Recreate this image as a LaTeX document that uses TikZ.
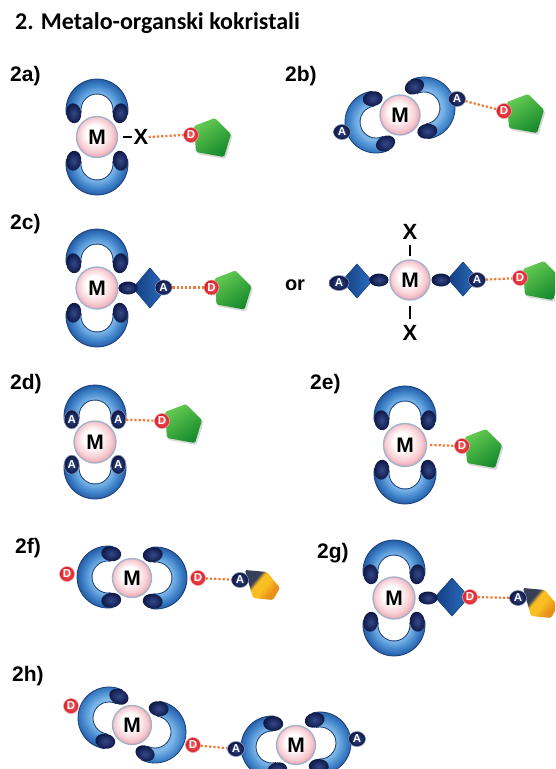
\documentclass[tikz,border=0pt]{standalone}
\usepackage{fontspec}
\setmainfont{Liberation Sans}
\newfontfamily\titlefont{Carlito}
\usetikzlibrary{shapes.geometric,shadows}

\definecolor{ringdark}{RGB}{36,92,166}
\definecolor{ringmid}{RGB}{70,138,206}
\definecolor{ringlight}{RGB}{126,182,232}
\definecolor{ringedgec}{RGB}{24,62,118}
\definecolor{navydark}{RGB}{12,22,66}
\definecolor{navylight}{RGB}{52,72,138}
\definecolor{mpink}{RGB}{246,204,210}
\definecolor{mred}{RGB}{222,104,120}
\definecolor{mrim}{RGB}{160,178,204}
\definecolor{dred}{RGB}{214,30,40}
\definecolor{dredlight}{RGB}{250,96,96}
\definecolor{hbondc}{RGB}{240,120,50}
\definecolor{gtop}{RGB}{100,202,82}
\definecolor{gbot}{RGB}{22,138,44}
\definecolor{diadark}{RGB}{20,62,130}
\definecolor{dialight}{RGB}{44,110,190}
\definecolor{golddark}{RGB}{55,62,88}
\definecolor{goldmid}{RGB}{248,190,34}
\definecolor{goldend}{RGB}{232,146,28}

% shadings are sized so that the path's bounding box spans 25bp from the centre
\pgfdeclareradialshading{mball}{\pgfpoint{-5bp}{6bp}}{color(0bp)=(white); color(10bp)=(white); color(21bp)=(mpink); color(33bp)=(mred)}
\pgfdeclareradialshading{ringshade}{\pgfpointorigin}{color(0bp)=(ringlight); color(13bp)=(ringlight); color(19bp)=(ringmid); color(25bp)=(ringdark); color(50bp)=(ringdark)}
\pgfdeclareverticalshading{goldshade}{100bp}{color(0bp)=(goldend); color(32bp)=(goldend); color(46bp)=(goldmid); color(58bp)=(goldmid); color(64bp)=(golddark); color(100bp)=(golddark)}

\tikzset{
  mnode/.style={circle, minimum size=#1, inner sep=0pt, draw=mrim, line width=1.3pt,
    shading=mball, font=\bfseries\fontsize{21}{21}\selectfont},
  mnode/.default=41pt,
  dnode/.style={circle, minimum size=15pt, inner sep=0pt, draw=white!60!dred, line width=0.6pt,
    inner color=dredlight, outer color=dred, text=white, font=\bfseries\fontsize{11.5}{11.5}\selectfont},
  anode/.style={ellipse, minimum width=17pt, minimum height=15pt, inner sep=0pt,
    draw=navylight!60!white, line width=0.6pt, inner color=navylight, outer color=navydark,
    text=white, font=\bfseries\fontsize{11.5}{11.5}\selectfont},
  acap/.style={anode, minimum width=15pt, minimum height=19pt},
  xnode/.style={inner sep=0pt, font=\bfseries\fontsize{22}{22}\selectfont},
  lbl/.style={anchor=base west, inner sep=0pt, font=\bfseries\fontsize{21}{21}\selectfont},
  hbond/.style={draw=hbondc, line width=2.2pt, dash pattern=on 2.2pt off 2pt},
  bond/.style={draw=black, line width=2.4pt},
  ringline/.style={draw=ringedgec, line width=0.8pt},
  capfill/.style={inner color=navylight, outer color=navydark},
  greenfill/.style={top color=gtop, bottom color=gbot, shading angle=35,
    drop shadow={shadow xshift=1.5pt, shadow yshift=-2pt, opacity=0.3}},
  goldfill/.style={shading=goldshade, shading angle=50},
  diafill/.style={left color=diadark, right color=dialight, draw=diadark, line width=0.6pt},
}

% horseshoe ligand ring: centre (image x, image y), rotation; 0 = opening downwards
\newcommand\hring[3]{%
  \begin{scope}[shift={(#1,-#2)},rotate=#3]
    \begin{scope}
      \clip (-8:31) arc[start angle=-8,end angle=188,radius=31] -- (188:16)
        arc[start angle=188,end angle=-8,radius=16] -- cycle;
      \shade[shading=ringshade] (0,0) circle[radius=31];
    \end{scope}
    \draw[ringline] (-8:31) arc[start angle=-8,end angle=188,radius=31] -- (188:16)
      arc[start angle=188,end angle=-8,radius=16] -- cycle;
  \end{scope}}

% ring with its two dark binding ends
\newcommand\hshoe[3]{%
  \hring{#1}{#2}{#3}%
  \begin{scope}[shift={(#1,-#2)},rotate=#3]
    \shade[capfill, shift={(-8:23.5)}, rotate=-8] (0,0) ellipse[x radius=7.5,y radius=10];
    \shade[capfill, shift={(188:23.5)}, rotate=188] (0,0) ellipse[x radius=7.5,y radius=10];
  \end{scope}}

% green donor-partner block, placed at its D site
\newcommand\greenat[2]{%
  \shade[greenfill, shift={(#1,-#2)}, rounded corners=1.5pt]
    (3,9) -- (24,17) -- (40,1) -- (33,-22) -- (5,-17) -- cycle;}

% gold acceptor-partner block, placed at its A site
\newcommand\goldat[2]{%
  \shade[goldfill, shift={(#1,-#2)}, rounded corners=1.5pt]
    (5,10) -- (27,8) -- (40,-8) -- (33,-20) -- (13,-18) -- cycle;}

% blue diamond spacer: centre x, centre y, half width, half height
\newcommand\diamondat[4]{%
  \shade[diafill] (#1-#3,-#2) -- (#1,-#2+#4) -- (#1+#3,-#2) -- (#1,-#2-#4) -- cycle;}

\begin{document}
\begin{tikzpicture}[x=1pt,y=1pt]
\path[use as bounding box] (0,0) rectangle (555,-769);
\clip (0,0) rectangle (555,-769);
\fill[white] (0,0) rectangle (555,-769);

\node[anchor=base west, inner sep=0pt, font=\titlefont\bfseries\fontsize{24}{24}\selectfont]
  (title) at (15,-29.5) {2. Metalo-organski kokristali};

\node[lbl] (l2a) at (10,-81) {2a)};
\node[lbl] (l2b) at (285,-81) {2b)};
\node[lbl] (l2c) at (10,-229) {2c)};
\node[lbl] (l2d) at (10,-389) {2d)};
\node[lbl] (l2e) at (310,-389) {2e)};
\node[lbl] (l2f) at (15,-553) {2f)};
\node[lbl] (l2g) at (317,-558) {2g)};
\node[lbl] (l2h) at (12,-681) {2h)};

% ---- 2a
\hshoe{97}{110}{0}
\hshoe{97}{164}{180}
\node[mnode] (m2a) at (97,-137) {M};
\node[xnode] (x2a) at (141,-137) {X};
\draw[bond] ([xshift=4.5pt]m2a.east) -- ([xshift=-1.5pt]x2a.west);
\greenat{191}{135}
\node[dnode] (d2a) at (191,-135) {D};
\draw[hbond] (x2a.east) -- (d2a.west);

% ---- 2b
\hshoe{376}{122}{106}
\hshoe{424}{108}{-74}
\node[mnode=40pt] (m2b) at (400,-115) {M};
\node[anode] (a2b1) at (342,-132) {A};
\node[anode] (a2b2) at (457,-99) {A};
\greenat{504}{111}
\node[dnode] (d2b) at (504,-111) {D};
\draw[hbond] (a2b2) -- (d2b);

% ---- 2c, first form
\hshoe{97}{260}{0}
\hshoe{97}{316}{180}
\diamondat{150}{288}{17}{20}
\shade[capfill] (128,-288) ellipse[x radius=9.5,y radius=6.5];
\node[mnode=42pt] (m2c) at (97,-288) {M};
\node[anode] (a2c) at (163.5,-287.5) {A};
\greenat{211.5}{287.5}
\node[dnode] (d2c) at (211.5,-287.5) {D};
\draw[hbond] (a2c) -- (d2c);

\node[anchor=base, inner sep=0pt, font=\bfseries\fontsize{20}{20}\selectfont] (or) at (295,-290) {or};

% ---- 2c, second form
\node[xnode] (x2ct) at (410,-232) {X};
\node[xnode] (x2cb) at (410,-333) {X};
\diamondat{357}{281}{15}{17}
\diamondat{463}{279}{15}{17}
\shade[capfill] (379,-280) ellipse[x radius=9.5,y radius=6.5];
\shade[capfill] (441,-280) ellipse[x radius=9.5,y radius=6.5];
\node[mnode=40pt] (m2cr) at (410,-280) {M};
\draw[bond] ([yshift=3pt]m2cr.north) -- ([yshift=-5pt]x2ct.south);
\draw[bond] ([yshift=-5pt]m2cr.south) -- ([yshift=6pt]x2cb.north);
\node[anode, minimum width=20pt] (a2cl) at (339,-283) {A};
\node[anode] (a2cr) at (477,-280) {A};
\greenat{520}{278}
\node[dnode] (d2cr) at (520,-278) {D};
\draw[hbond] (a2cr) -- (d2cr);

% ---- 2d
\hring{95}{416}{0}
\hring{95}{468}{180}
\node[mnode=42pt] (m2d) at (95,-442) {M};
\node[acap] (a2d1) at (71.7,-419.3) {A};
\node[acap] (a2d2) at (118.3,-419.3) {A};
\node[acap] (a2d3) at (71.7,-464.7) {A};
\node[acap] (a2d4) at (118.3,-464.7) {A};
\greenat{162}{421}
\node[dnode] (d2d) at (162,-421) {D};
\draw[hbond] (a2d2) -- (d2d);

% ---- 2e
\hshoe{405}{417}{0}
\hshoe{405}{473}{180}
\node[mnode=43pt] (m2e) at (405,-445) {M};
\greenat{462}{446}
\node[dnode] (d2e) at (462,-446) {D};
\draw[hbond] ([xshift=3pt]m2e.east) -- (d2e);

% ---- 2f
\hshoe{108}{577}{90}
\hshoe{156}{578}{-90}
\node[mnode=39pt] (m2f) at (132,-578) {M};
\node[dnode] (d2f1) at (67,-574) {D};
\node[dnode] (d2f2) at (198,-578) {D};
\goldat{240}{580}
\node[anode] (a2f) at (240,-580) {A};
\draw[hbond] (d2f2) -- (a2f);

% ---- 2g
\hshoe{394}{571}{0}
\hshoe{394}{625}{180}
\diamondat{452}{597}{17}{19}
\shade[capfill] (428,-598) ellipse[x radius=9.5,y radius=6.5];
\node[mnode=42pt] (m2g) at (394,-598) {M};
\node[dnode] (d2g) at (470,-597) {D};
\goldat{518}{598}
\node[anode] (a2g) at (518,-598) {A};
\draw[hbond] (d2g) -- (a2g);

% ---- 2h
\hshoe{109}{718}{73}
\hshoe{155}{732}{-107}
\node[mnode=39pt] (m2h1) at (132,-725) {M};
\node[dnode] (d2h1) at (71,-706) {D};
\node[dnode] (d2h2) at (193,-745) {D};
\hshoe{272}{747}{95}
\hshoe{320}{743}{-85}
\node[mnode=39pt] (m2h2) at (296,-745) {M};
\node[anode] (a2h1) at (236,-749) {A};
\node[anode] (a2h2) at (357,-739) {A};
\draw[hbond] (d2h2) -- (a2h1);
\end{tikzpicture}
\end{document}
